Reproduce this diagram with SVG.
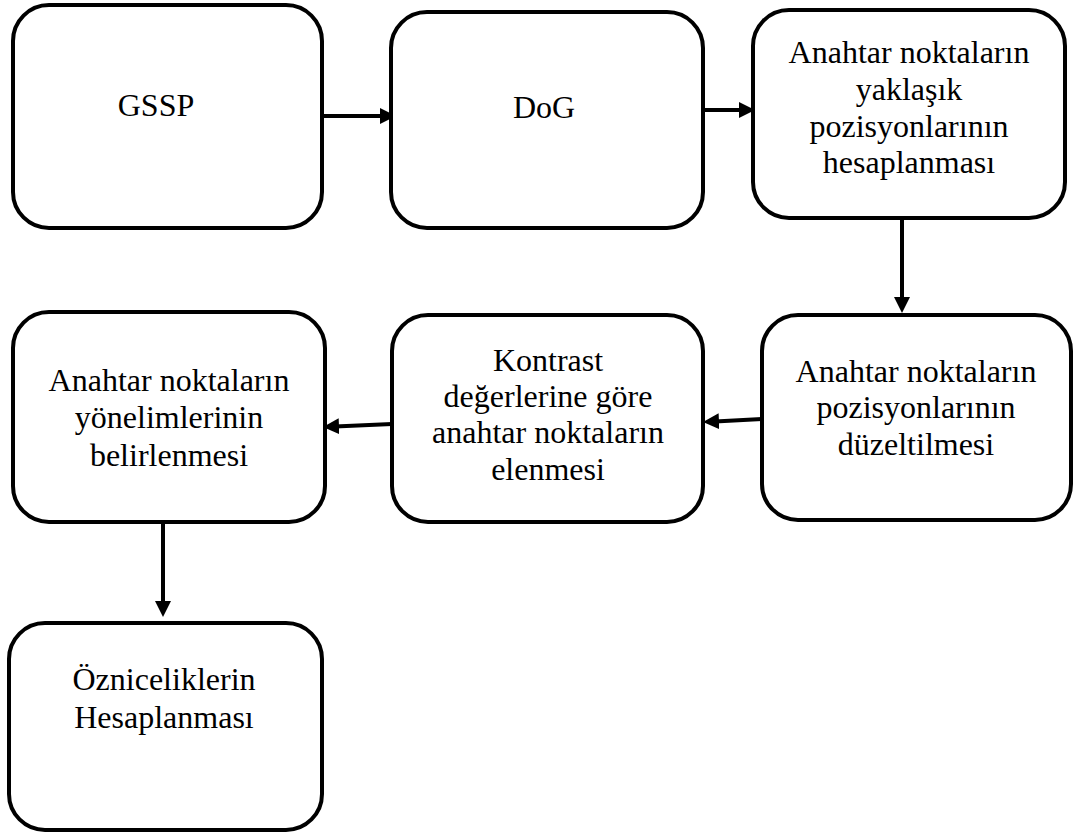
<svg xmlns="http://www.w3.org/2000/svg" width="1077" height="834" viewBox="0 0 1077 834">
<style>
.box{fill:#fff;stroke:#000;stroke-width:4}
.lbl{font-family:'Liberation Serif','Tinos','Times New Roman','DejaVu Serif',serif;font-size:32px;fill:#000;text-anchor:middle}
.conn{stroke:#000;stroke-width:4;fill:none;marker-end:url(#ah)}
</style>
<defs>
<marker id="ah" markerUnits="userSpaceOnUse" markerWidth="16" markerHeight="16" viewBox="0 0 16 16" refX="4" refY="8" orient="auto">
<path d="M0,0 L16,8 L0,16 z" fill="#000"/>
</marker>
</defs>
<rect width="1077" height="834" fill="#fff"/>
<g id="connectors">
<path class="conn" d="M322,116 L384,116"/>
<path class="conn" d="M704,110 L743,110"/>
<path class="conn" d="M902,218 L902,301"/>
<path class="conn" d="M762,419 L715,421.4"/>
<path class="conn" d="M392,424 L335,426.4"/>
<path class="conn" d="M163,522 L163,605"/>
</g>
<g id="n1"><rect class="box" x="13" y="5" width="309" height="223" rx="36"/><text class="lbl" x="156" y="116">GSSP</text></g>
<g id="n2"><rect class="box" x="391" y="12" width="312" height="216" rx="36"/><text class="lbl" x="544" y="118">DoG</text></g>
<g id="n3"><rect class="box" x="753" y="10" width="312" height="208" rx="36"/>
<text class="lbl"><tspan x="909" y="63">Anahtar noktaların</tspan><tspan x="909" y="100">yaklaşık</tspan><tspan x="909" y="137">pozisyonlarının</tspan><tspan x="909" y="173">hesaplanması</tspan></text></g>
<g id="n4"><rect class="box" x="762" y="315" width="309" height="205" rx="36"/>
<text class="lbl"><tspan x="916" y="382">Anahtar noktaların</tspan><tspan x="916" y="418">pozisyonlarının</tspan><tspan x="916" y="455">düzeltilmesi</tspan></text></g>
<g id="n5"><rect class="box" x="392" y="315" width="311" height="207" rx="36"/>
<text class="lbl"><tspan x="548" y="371">Kontrast</tspan><tspan x="548" y="407">değerlerine göre</tspan><tspan x="548" y="443">anahtar noktaların</tspan><tspan x="548" y="480">elenmesi</tspan></text></g>
<g id="n6"><rect class="box" x="13" y="312" width="312" height="210" rx="36"/>
<text class="lbl"><tspan x="169" y="391">Anahtar noktaların</tspan><tspan x="169" y="428">yönelimlerinin</tspan><tspan x="169" y="466">belirlenmesi</tspan></text></g>
<g id="n7"><rect class="box" x="9" y="623" width="313" height="207" rx="36"/>
<text class="lbl"><tspan x="164" y="690">Özniceliklerin</tspan><tspan x="164" y="728">Hesaplanması</tspan></text></g>
</svg>
